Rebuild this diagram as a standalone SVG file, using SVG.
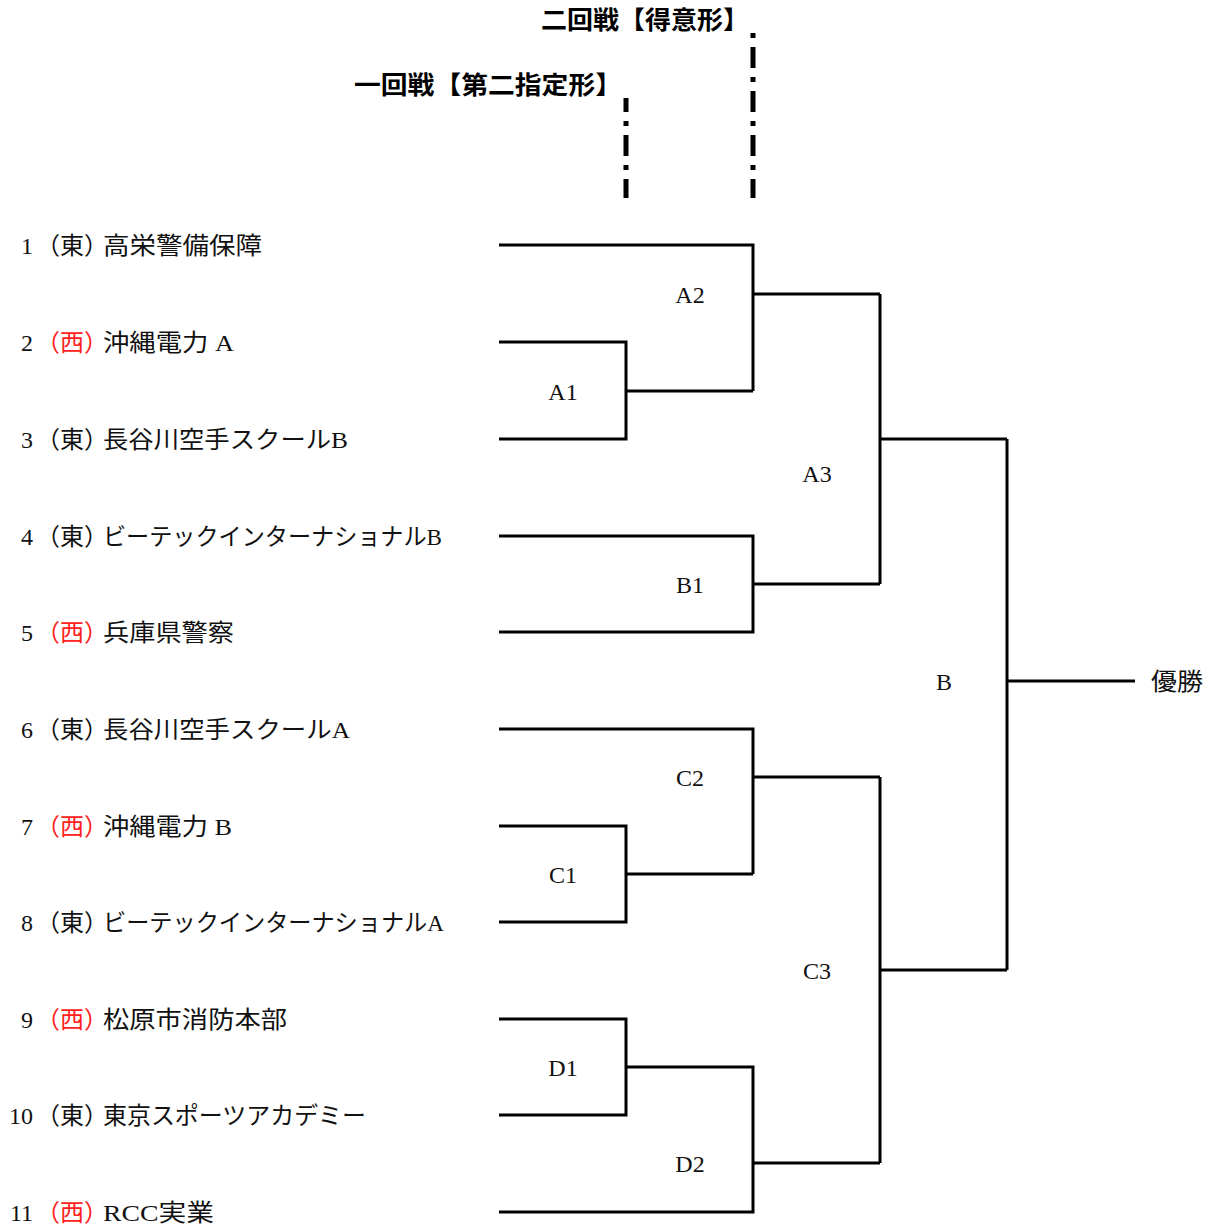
<svg xmlns="http://www.w3.org/2000/svg" width="1216" height="1227" viewBox="0 0 1216 1227">
<style>
.t{font-family:"Liberation Serif","Noto Sans CJK JP",serif;font-size:24px;fill:#111}
.h{font-family:"Noto Sans CJK JP",sans-serif;font-size:25px;font-weight:bold;fill:#000}
.num{text-anchor:end}
.red{fill:#ff2020}
.lbl{font-family:"Liberation Serif",serif;font-size:24px;fill:#111;text-anchor:middle}
.ln{fill:none;stroke:#000;stroke-width:3}
.dash{fill:none;stroke:#000;stroke-width:5;stroke-dasharray:5 9 21 9}
</style>
<rect width="1216" height="1227" fill="#fff"/>
<g id="headers">
<text class="h" x="541" y="29" textLength="208" lengthAdjust="spacingAndGlyphs">二回戦【得意形】</text>
<text class="h" x="354" y="94" textLength="268" lengthAdjust="spacingAndGlyphs">一回戦【第二指定形】</text>
<line class="dash" x1="753" y1="33" x2="753" y2="198"/>
<line class="dash" x1="626" y1="98" x2="626" y2="198" style="stroke-dashoffset:21"/>
</g>
<g id="teams">
<g id="team1"><text class="t num" x="33" y="254">1</text><text class="t" x="36" y="254">（東）</text><text class="t" x="103" y="254" textLength="159" lengthAdjust="spacingAndGlyphs">高栄警備保障</text></g>
<g id="team2"><text class="t num" x="33" y="351">2</text><text class="t red" x="36" y="351">（西）</text><text class="t" x="103" y="351" textLength="131" lengthAdjust="spacingAndGlyphs">沖縄電力 A</text></g>
<g id="team3"><text class="t num" x="33" y="448">3</text><text class="t" x="36" y="448">（東）</text><text class="t" x="103" y="448" textLength="245" lengthAdjust="spacingAndGlyphs">長谷川空手スクールB</text></g>
<g id="team4"><text class="t num" x="33" y="545">4</text><text class="t" x="36" y="545">（東）</text><text class="t" x="103" y="545" textLength="339" lengthAdjust="spacingAndGlyphs">ビーテックインターナショナルB</text></g>
<g id="team5"><text class="t num" x="33" y="641">5</text><text class="t red" x="36" y="641">（西）</text><text class="t" x="103" y="641" textLength="131" lengthAdjust="spacingAndGlyphs">兵庫県警察</text></g>
<g id="team6"><text class="t num" x="33" y="738">6</text><text class="t" x="36" y="738">（東）</text><text class="t" x="103" y="738" textLength="247" lengthAdjust="spacingAndGlyphs">長谷川空手スクールA</text></g>
<g id="team7"><text class="t num" x="33" y="835">7</text><text class="t red" x="36" y="835">（西）</text><text class="t" x="103" y="835" textLength="129" lengthAdjust="spacingAndGlyphs">沖縄電力 B</text></g>
<g id="team8"><text class="t num" x="33" y="931">8</text><text class="t" x="36" y="931">（東）</text><text class="t" x="103" y="931" textLength="341" lengthAdjust="spacingAndGlyphs">ビーテックインターナショナルA</text></g>
<g id="team9"><text class="t num" x="33" y="1028">9</text><text class="t red" x="36" y="1028">（西）</text><text class="t" x="103" y="1028" textLength="184" lengthAdjust="spacingAndGlyphs">松原市消防本部</text></g>
<g id="team10"><text class="t num" x="33" y="1124">10</text><text class="t" x="36" y="1124">（東）</text><text class="t" x="103" y="1124" textLength="263" lengthAdjust="spacingAndGlyphs">東京スポーツアカデミー</text></g>
<g id="team11"><text class="t num" x="33" y="1221">11</text><text class="t red" x="36" y="1221">（西）</text><text class="t" x="103" y="1221" textLength="111" lengthAdjust="spacingAndGlyphs">RCC実業</text></g>
</g>
<g id="connectors">
<polyline class="ln" points="499,342 626,342 626,439 499,439"/>
<polyline class="ln" points="626,391 753,391"/>
<polyline class="ln" points="499,245 753,245 753,391"/>
<polyline class="ln" points="753,294 880,294"/>
<polyline class="ln" points="499,536 753,536 753,632 499,632"/>
<polyline class="ln" points="753,584 880,584"/>
<polyline class="ln" points="880,294 880,584"/>
<polyline class="ln" points="880,439 1007,439"/>
<polyline class="ln" points="499,826 626,826 626,922 499,922"/>
<polyline class="ln" points="626,874 753,874"/>
<polyline class="ln" points="499,729 753,729 753,874"/>
<polyline class="ln" points="753,777 880,777"/>
<polyline class="ln" points="499,1019 626,1019 626,1115 499,1115"/>
<polyline class="ln" points="626,1067 753,1067 753,1212 499,1212"/>
<polyline class="ln" points="753,1163 880,1163"/>
<polyline class="ln" points="880,777 880,1163"/>
<polyline class="ln" points="880,970 1007,970"/>
<polyline class="ln" points="1007,439 1007,970"/>
<polyline class="ln" points="1007,681 1135,681"/>
</g>
<g id="labels">
<g id="A1"><text class="lbl" x="563" y="400">A1</text></g>
<g id="A2"><text class="lbl" x="690" y="303">A2</text></g>
<g id="A3"><text class="lbl" x="817" y="482">A3</text></g>
<g id="B1"><text class="lbl" x="690" y="593">B1</text></g>
<g id="B"><text class="lbl" x="944" y="690">B</text></g>
<g id="C2"><text class="lbl" x="690" y="786">C2</text></g>
<g id="C1"><text class="lbl" x="563" y="883">C1</text></g>
<g id="C3"><text class="lbl" x="817" y="979">C3</text></g>
<g id="D1"><text class="lbl" x="563" y="1076">D1</text></g>
<g id="D2"><text class="lbl" x="690" y="1172">D2</text></g>
<g id="winner"><text class="t" x="1151" y="690" textLength="52" lengthAdjust="spacingAndGlyphs">優勝</text></g>
</g>
</svg>
